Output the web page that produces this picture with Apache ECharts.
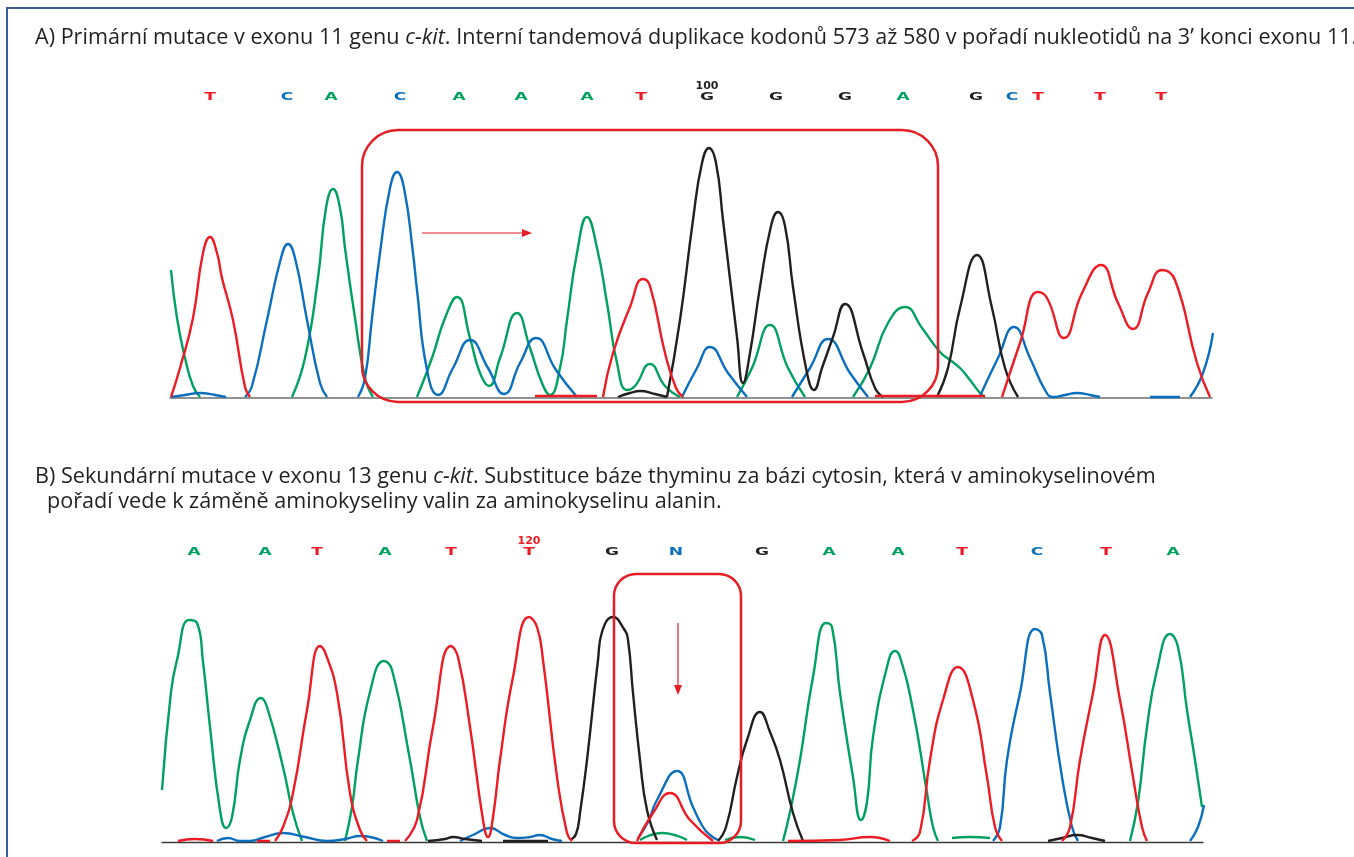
<!DOCTYPE html>
<html>
<head>
<meta charset="utf-8">
<script src="https://cdn.jsdelivr.net/npm/echarts@6/dist/echarts.min.js"></script>
<style>
  html, body { margin: 0; padding: 0; background: #fff; }
  #chart { width: 1354px; height: 857px; }
</style>
</head>
<body>
<div id="chart"></div>
<script>
// ---- base calls (letters above the traces) ----
const basesA = ['T', 'C', 'A', 'C', 'A', 'A', 'A', 'T', 'G', 'G', 'G', 'A', 'G', 'C', 'T', 'T', 'T']
const basePosA = [210, 287, 331, 400, 459, 521, 587, 641, 707, 776, 845, 903, 976, 1012, 1038, 1100, 1161]
const basesB = ['A', 'A', 'T', 'A', 'T', 'T', 'G', 'N', 'G', 'A', 'A', 'T', 'C', 'T', 'A']
const basePosB = [194, 265, 317, 385, 451, 529, 612, 676, 762, 829, 898, 962, 1037, 1106, 1173]
const numberA = { index: 8, text: '100' }
const numberB = { index: 5, text: '120' }

// ---- traces, panel A (scan position, signal); each inner array is one drawn segment ----
const redA = [
  [[171, 1], [180, 30], [193, 80], [203, 145], [210, 161], [217, 145], [222, 120], [233, 78], [245, 11], [250, 1]],
  [[535, 2], [597, 2]],
  [[603, 1], [613, 45], [630, 91], [643, 119], [650, 112], [665, 45], [676, 10], [683, 1]],
  [[875, 2], [985, 2]],
  [[1002, 1], [1020, 55], [1038, 106], [1047, 100], [1064, 60], [1082, 105], [1101, 133], [1118, 95], [1133, 69], [1148, 105], [1162, 128], [1175, 118], [1197, 35], [1210, 1]]
]
const blueA = [
  [[171, 1], [185, 3], [200, 5], [215, 3], [226, 1]],
  [[245, 1], [252, 12], [267, 78], [281, 140], [288, 154], [295, 140], [307, 78], [320, 15], [327, 1]],
  [[358, 1], [365, 20], [372, 80], [380, 145], [390, 210], [397, 226], [404, 210], [413, 145], [417, 108], [427, 28], [438, 3], [453, 30], [470, 58], [488, 30], [504, 4], [520, 35], [536, 60], [556, 28], [577, 1]],
  [[682, 1], [697, 30], [710, 51], [728, 25], [747, 1]],
  [[792, 1], [810, 30], [828, 59], [850, 25], [868, 1]],
  [[980, 2], [998, 40], [1014, 71], [1030, 40], [1045, 8], [1053, 1], [1065, 3], [1077, 5], [1090, 3], [1100, 1]],
  [[1150, 1], [1180, 1]],
  [[1190, 1], [1203, 25], [1213, 65]]
]
const greenA = [
  [[171, 128], [177, 80], [185, 40], [193, 12], [200, 1]],
  [[292, 1], [305, 40], [318, 120], [326, 190], [333, 209], [340, 190], [345, 150], [355, 80], [365, 20], [373, 1]],
  [[417, 1], [432, 40], [445, 80], [457, 101], [470, 60], [480, 25], [489, 12], [500, 40], [517, 85], [530, 50], [542, 15], [550, 3], [560, 30], [567, 78], [577, 145], [587, 181], [597, 150], [607, 95], [617, 35], [627, 8], [635, 12], [650, 34], [665, 12], [680, 1]],
  [[737, 1], [752, 30], [770, 73], [788, 30], [805, 1]],
  [[853, 1], [870, 30], [888, 75], [905, 91], [922, 70], [940, 46], [950, 38], [960, 30], [970, 18], [980, 5], [985, 1]]
]
const blackA = [
  [[618, 1], [630, 5], [640, 7], [655, 4], [667, 1]],
  [[667, 1], [680, 78], [693, 178], [702, 235], [709, 250], [716, 235], [723, 178], [737, 61], [743, 15], [750, 45], [760, 111], [771, 172], [778, 186], [785, 172], [793, 111], [806, 30], [814, 8], [822, 30], [833, 61], [845, 94], [863, 45], [875, 10], [883, 1]],
  [[937, 1], [948, 30], [960, 90], [977, 143], [992, 90], [1005, 30], [1018, 1]]
]

// ---- traces, panel B ----
const greenB = [
  [[162, 52], [171, 150], [177, 182], [189, 222], [197, 219], [203, 180], [210, 115], [220, 32], [226, 14], [232, 25], [240, 82], [250, 122], [261, 144], [267, 135], [283, 75], [293, 29], [302, 1]],
  [[345, 1], [352, 35], [358, 82], [370, 150], [384, 181], [392, 172], [410, 82], [420, 25], [427, 1]],
  [[640, 2], [662, 9], [687, 2]],
  [[725, 2], [740, 5], [755, 2]],
  [[783, 1], [790, 30], [800, 82], [813, 165], [826, 219], [832, 215], [840, 149], [853, 65], [861, 22], [867, 40], [873, 105], [887, 175], [895, 191], [900, 185], [913, 132], [927, 49], [933, 15], [938, 1]],
  [[952, 4], [970, 5], [990, 4]],
  [[1130, 1], [1138, 40], [1147, 115], [1157, 172], [1170, 208], [1178, 195], [1187, 132], [1195, 82], [1202, 35]]
]
const redB = [
  [[178, 1], [195, 3], [213, 1]],
  [[257, 1], [270, 1]],
  [[275, 1], [283, 15], [293, 49], [307, 132], [320, 196], [325, 190], [337, 149], [350, 49], [360, 12], [367, 1]],
  [[387, 1], [400, 1]],
  [[405, 1], [417, 22], [433, 115], [451, 196], [458, 185], [470, 115], [483, 22], [488, 5], [493, 25], [500, 82], [513, 165], [529, 225], [537, 215], [543, 182], [557, 65], [567, 9], [572, 1]],
  [[637, 1], [653, 29], [670, 49], [690, 22], [713, 1]],
  [[788, 1], [840, 2], [870, 5], [890, 1]],
  [[912, 1], [920, 10], [930, 82], [943, 142], [958, 175], [973, 142], [987, 65], [995, 15], [1002, 1]],
  [[1062, 1], [1070, 15], [1080, 82], [1093, 149], [1105, 207], [1120, 142], [1133, 65], [1142, 15], [1147, 1]]
]
const blueB = [
  [[217, 1], [228, 4], [240, 1], [250, 1], [265, 5], [283, 9], [305, 5], [327, 1], [345, 3], [360, 6], [383, 1]],
  [[460, 1], [475, 8], [490, 14], [505, 7], [517, 4], [530, 5], [540, 7], [552, 3], [562, 1]],
  [[638, 4], [648, 20], [657, 42], [677, 71], [693, 35], [703, 15], [710, 7], [718, 2]],
  [[993, 1], [1000, 15], [1007, 82], [1020, 149], [1035, 213], [1042, 207], [1050, 149], [1062, 65], [1072, 15], [1078, 1]],
  [[1190, 1], [1198, 15], [1204, 37]]
]
const blackB = [
  [[428, 1], [445, 3], [453, 5], [465, 3], [482, 1]],
  [[503, 1], [548, 1]],
  [[570, 2], [576, 8], [580, 29], [587, 82], [598, 182], [602, 210], [613, 225], [624, 213], [628, 202], [633, 149], [640, 82], [647, 32], [657, 2]],
  [[718, 1], [726, 15], [737, 65], [747, 102], [760, 130], [770, 110], [780, 82], [793, 29], [803, 1]],
  [[1048, 1], [1062, 4], [1077, 7], [1092, 4], [1105, 1]]
]

const COLORS = { A: '#00a160', C: '#0b6fbd', G: '#231f20', T: '#ed1c24', N: '#0b6fbd' }
const FONT = 'Open Sans'

const chart = echarts.init(document.getElementById('chart'))

function traceSeries(segments, color, idx) {
  return segments.map(seg => ({
    type: 'line',
    xAxisIndex: idx,
    yAxisIndex: idx,
    data: seg,
    smooth: 0.5,
    showSymbol: false,
    silent: true,
    animation: false,
    lineStyle: { color: color, width: 2.4 }
  }))
}

const hiddenY = { type: 'value', min: 0, max: 320, show: false }

chart.setOption({
  animation: false,
  grid: [
    { left: 170, right: 142, top: 78, bottom: 459 },
    { left: 162, right: 151, top: 522, bottom: 15 }
  ],
  xAxis: [
    { type: 'value', gridIndex: 0, min: 170, max: 1212, axisLine: { show: true, onZero: false, lineStyle: { color: '#6d6e71', width: 1.5 } }, axisTick: { show: false }, axisLabel: { show: false }, splitLine: { show: false } },
    { type: 'value', gridIndex: 1, min: 162, max: 1203, axisLine: { show: true, onZero: false, lineStyle: { color: '#3a3a3a', width: 1.3 } }, axisTick: { show: false }, axisLabel: { show: false }, splitLine: { show: false } }
  ],
  yAxis: [
    Object.assign({ gridIndex: 0 }, hiddenY),
    Object.assign({ gridIndex: 1 }, hiddenY)
  ],
  series: [].concat(
    traceSeries(greenA, COLORS.A, 0),
    traceSeries(blueA, COLORS.C, 0),
    traceSeries(blackA, COLORS.G, 0),
    traceSeries(redA, COLORS.T, 0),
    traceSeries(greenB, COLORS.A, 1),
    traceSeries(blueB, COLORS.C, 1),
    traceSeries(blackB, COLORS.G, 1),
    traceSeries(redB, COLORS.T, 1)
  )
})

// annotations: rounded boxes, arrows and base letters placed in data coordinates
function px(idx, pt) { return chart.convertToPixel({ gridIndex: idx }, pt) }

// letters are wide and flat in the original, so they are stretched horizontally
function letterGraphics(bases, pos, y, num, numColor, idx) {
  const out = bases.map((b, i) => {
    const p = px(idx, [pos[i], y])
    return {
      type: 'text', silent: true, x: p[0], y: p[1], scaleX: 1.55,
      style: { text: b, fill: COLORS[b], font: 'bold 11px "DejaVu Sans"', align: 'center', verticalAlign: 'middle' }
    }
  })
  const q = px(idx, [pos[num.index], y + 11])
  out.push({
    type: 'text', silent: true, x: q[0], y: q[1],
    style: { text: num.text, fill: numColor, font: 'bold 11px "DejaVu Sans"', align: 'center', verticalAlign: 'middle' }
  })
  return out
}

const a0 = px(0, [362, 268]), a1 = px(0, [938, -4])
const b0 = px(1, [614, 268]), b1 = px(1, [741, -1])
const arA0 = px(0, [422, 165]), arA1 = px(0, [532, 165])
const arB0 = px(1, [678, 219]), arB1 = px(1, [678, 147])
const RED = '#e31e24'

const rich = {
  n: { fontFamily: FONT, fontSize: 21.6, fill: '#231f20' },
  i: { fontFamily: FONT, fontSize: 21.6, fontStyle: 'italic', fill: '#231f20' }
}

chart.setOption({
  graphic: [
    { type: 'polyline', silent: true, shape: { points: [[7, 857], [7, 8], [1354, 8]] }, style: { stroke: '#3b5c94', lineWidth: 2, fill: null } },
    { type: 'text', silent: true, x: 35, y: 38, style: { text: '{n|A) Primární mutace v exonu 11 genu }{i|c-kit}{n|. Interní tandemová duplikace kodonů 573 až 580 v pořadí nukleotidů na 3’ konci exonu 11.}', rich: rich, verticalAlign: 'middle' } },
    { type: 'text', silent: true, x: 35, y: 477, style: { text: '{n|B) Sekundární mutace v exonu 13 genu }{i|c-kit}{n|. Substituce báze thyminu za bázi cytosin, která v aminokyselinovém}', rich: rich, verticalAlign: 'middle' } },
    { type: 'text', silent: true, x: 47, y: 502, style: { text: '{n|pořadí vede k záměně aminokyseliny valin za aminokyselinu alanin.}', rich: rich, verticalAlign: 'middle' } },
    { type: 'rect', silent: true, z: 10, shape: { x: a0[0], y: a0[1], width: a1[0] - a0[0], height: a1[1] - a0[1], r: 36 }, style: { stroke: RED, lineWidth: 2.5, fill: null } },
    { type: 'rect', silent: true, z: 10, shape: { x: b0[0], y: b0[1], width: b1[0] - b0[0], height: b1[1] - b0[1], r: 22 }, style: { stroke: RED, lineWidth: 2.5, fill: null } },
    { type: 'line', silent: true, z: 10, shape: { x1: arA0[0], y1: arA0[1], x2: arA1[0] - 8, y2: arA1[1] }, style: { stroke: RED, lineWidth: 1.2 } },
    { type: 'polygon', silent: true, z: 10, shape: { points: [[arA1[0], arA1[1]], [arA1[0] - 10, arA1[1] - 4], [arA1[0] - 10, arA1[1] + 4]] }, style: { fill: RED } },
    { type: 'line', silent: true, z: 10, shape: { x1: arB0[0], y1: arB0[1], x2: arB1[0], y2: arB1[1] - 8 }, style: { stroke: RED, lineWidth: 1.2 } },
    { type: 'polygon', silent: true, z: 10, shape: { points: [[arB1[0], arB1[1]], [arB1[0] - 4, arB1[1] - 10], [arB1[0] + 4, arB1[1] - 10]] }, style: { fill: RED } }
  ].concat(
    letterGraphics(basesA, basePosA, 301, numberA, '#231f20', 0),
    letterGraphics(basesB, basePosB, 290, numberB, '#ed1c24', 1)
  )
})
</script>
</body>
</html>
